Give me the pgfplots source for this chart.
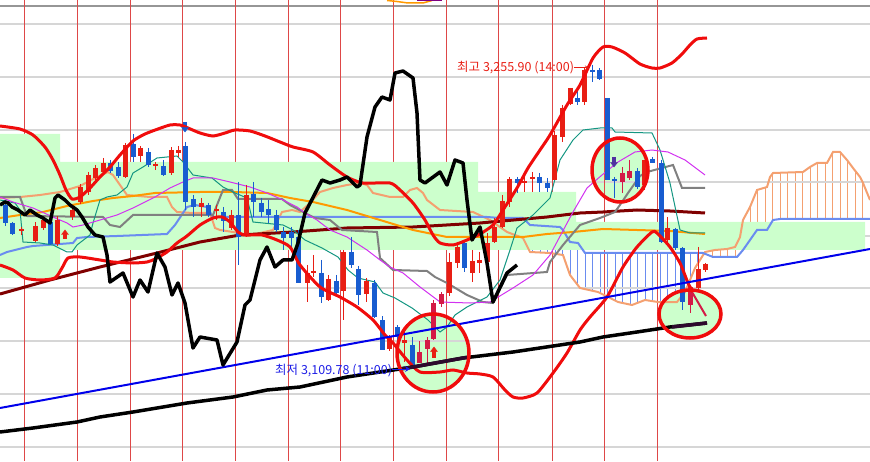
\documentclass[border=0pt]{standalone}
\usepackage{pgfplots}
\pgfplotsset{compat=1.18}
\usepackage{pgfplotstable}
\usepgfplotslibrary{fillbetween}
\usetikzlibrary{patterns.meta,arrows.meta}
\usepackage{fontspec}
\newfontfamily\krfont{Noto Sans CJK KR}

\definecolor{bandgreen}{RGB}{204,255,204}
\definecolor{gridgray}{RGB}{214,214,214}
\definecolor{topgray}{RGB}{150,150,150}
\definecolor{vred}{RGB}{222,72,72}
\definecolor{bbred}{RGB}{240,12,12}
\definecolor{cred}{RGB}{232,30,20}
\definecolor{cblue}{RGB}{24,92,208}
\definecolor{ccrim}{RGB}{212,26,70}
\definecolor{trendblue}{RGB}{0,0,235}
\definecolor{maroonc}{RGB}{128,0,0}
\definecolor{orng}{RGB}{255,153,0}
\definecolor{kgray}{RGB}{128,128,128}
\definecolor{tealc}{RGB}{20,150,130}
\definecolor{magen}{RGB}{210,50,240}
\definecolor{salmonc}{RGB}{244,160,112}
\definecolor{cflower}{RGB}{106,140,240}
\definecolor{darkpurple}{RGB}{45,10,45}
\definecolor{arrowpurple}{RGB}{80,50,160}
\definecolor{lblue}{RGB}{30,30,230}

% candles: x  high  body-top  body-bottom  low   (pixel rows, top = 0)
\pgfplotstableread{
x hi top bot lo
21 227 229 231 235
35 222 226 241 242
43 218 220 228 230
57 216 220 244 246
72 206 210 217 220
80 184 187 202 204
88 172 175 192 195
95 165 168 178 180
103 158 163 172 174
125 143 145 177 178
140 146 148 156 162
155 162 164 166 170
171 147 150 173 175
178 146 150 153 157
201 198 203 207 217
216 205 209 211 220
231 210 215 228 230
246 185 195 235 237
307 265 273 283 302
313 255 271 273 277
328 275 279 300 301
343 250 252 291 320
366 278 281 294 302
389 335 337 349 351
404 330 340 343 362
449 253 262 293 296
457 242 247 263 268
472 250 261 273 282
479 252 260 263 273
487 233 243 262 268
494 218 227 242 243
502 195 201 227 228
509 177 179 202 207
524 175 181 183 192
532 172 177 179 192
554 131 135 180 180
562 105 108 137 142
570 88 88 104 105
584 67 70 102 105
644 160 160 185 190
667 217 228 240 243
698 247 269 288 290
705 263 264 270 272
}\redc

\pgfplotstableread{
x hi top bot lo
5 200 205 223 226
12 222 223 234 235
50 215 222 244 245
110 160 163 171 173
118 162 167 176 178
133 134 144 157 162
148 148 152 165 167
163 160 166 175 176
185 142 146 202 210
193 195 199 207 217
208 203 205 215 217
223 207 212 221 232
238 182 215 237 265
253 182 194 202 217
261 198 203 212 217
268 200 209 215 223
276 210 215 230 232
283 227 232 238 250
291 227 232 238 250
298 230 237 283 283
321 260 273 297 303
336 275 281 293 295
351 237 252 265 268
358 266 269 295 305
374 280 283 317 318
382 316 320 350 350
397 325 327 337 353
412 337 345 367 367
464 241 243 268 272
517 177 179 183 193
539 173 177 183 192
547 178 183 188 192
577 88 98 102 105
592 65 70 72 82
599 68 70 79 80
607 98 98 180 180
614 177 179 181 198
637 168 171 187 189
652 157 159 163 163
661 160 163 242 243
675 228 229 248 250
682 247 248 302 310
}\bluec

\pgfplotstableread{
x hi top bot lo
419 341 352 363 363
427 337 340 349 363
433 300 303 339 340
441 292 294 304 307
622 167 173 182 193
629 160 171 178 180
690 285 287 305 313
}\crimc

\begin{document}
\begin{tikzpicture}
\begin{axis}[at={(0,0)}, anchor=south west,
  width=870pt, height=461pt, scale only axis,
  xmin=0, xmax=870, ymin=0, ymax=461, y dir=reverse,
  hide axis, clip=true]

% circle fills
\fill[bandgreen] (axis cs:433,353) ellipse [x radius=36pt, y radius=39pt];
\fill[bandgreen] (axis cs:620,170) ellipse [x radius=28pt, y radius=32pt];
\fill[bandgreen] (axis cs:690,314) ellipse [x radius=31pt, y radius=24pt];

% grid
\pgfplotsinvokeforeach{24,77,130,182,236,288,341,394,447}{
  \draw[gridgray, line width=1.2pt] (axis cs:0,#1) -- (axis cs:870,#1);}
\draw[topgray, line width=1.5pt] (axis cs:0,6) -- (axis cs:870,6);
\pgfplotsinvokeforeach{24,77,130,182,235,288,340,393,446,498,552,604,657}{
  \draw[vred, line width=1pt] (axis cs:#1,0) -- (axis cs:#1,461);}

% cloud band
\addplot[fill=bandgreen, draw=none] coordinates {(0,134) (60,134) (60,162) (478,162) (478,192) (576,192) (576,222) (865,222) (865,250) (60,250) (60,278) (0,278)} -- cycle;

% senkou spans
\addplot[salmonc, line width=2pt, name path=SA] coordinates {(0,198) (20,197) (40,195) (60,192) (80,186) (95,178) (108,172) (113,175) (120,185) (127,195) (150,197) (167,197) (172,207) (177,212) (193,213) (210,213) (215,228) (220,230) (233,232) (247,235) (260,233) (273,230) (282,212) (292,210) (300,212) (310,203) (320,192) (333,188) (347,185) (360,183) (367,185) (373,193) (390,197) (403,197) (410,190) (417,188) (423,193) (427,200) (440,210) (473,212) (490,220) (507,232) (523,238) (530,252) (550,253) (563,255) (570,275) (580,288) (598,292) (618,302) (632,305) (645,300) (658,302) (677,302) (685,292) (695,268) (705,252) (715,250) (727,249) (735,247) (740,237) (743,220) (750,207) (757,190) (767,187) (770,177) (773,173) (803,172) (810,167) (817,163) (827,163) (833,152) (840,152) (847,160) (853,168) (860,177) (863,183) (870,200)};
\addplot[cflower, line width=2pt, name path=SB] coordinates {(0,255) (7,252) (27,247) (33,246) (73,243) (77,238) (87,237) (117,236) (167,234) (175,225) (183,213) (187,207) (195,205) (207,207) (213,217) (487,217) (500,218) (523,218) (530,225) (560,227) (563,230) (570,242) (578,243) (585,253) (703,253) (713,257) (737,257) (743,250) (750,240) (757,230) (767,230) (773,220) (780,219) (870,219)};
\addplot[draw=none, pattern={Lines[angle=90,distance=7.5pt,line width=1pt]}, pattern color=salmonc] fill between[of=SA and SB, soft clip={domain=0:488}];
\addplot[draw=none, pattern={Lines[angle=90,distance=7.5pt,line width=1pt]}, pattern color=cflower] fill between[of=SA and SB, soft clip={domain=488:704}];
\addplot[draw=none, pattern={Lines[angle=90,distance=7.5pt,line width=1pt]}, pattern color=salmonc] fill between[of=SA and SB, soft clip={domain=704:870}];

% moving averages
\addplot[maroonc, line width=3pt] coordinates {(0,294) (50,280) (100,267) (157,253) (200,242) (240,235) (293,232) (347,228) (413,227) (480,223) (547,217) (580,213) (603,212) (637,210) (670,211) (705,213)};
\addplot[orng, line width=2pt] coordinates {(0,218) (20,215) (43,212) (67,206) (93,201) (113,198) (133,196) (155,193) (200,192) (233,192) (267,193) (290,198) (313,202) (347,210) (380,220) (413,230) (447,237) (480,237) (523,237) (547,234) (573,232) (603,229) (637,230) (670,231) (705,234)};
\addplot[kgray, line width=2pt] coordinates {(0,197) (20,197) (27,216) (103,217) (110,225) (120,227) (133,215) (213,215) (223,190) (232,190) (238,199) (282,199) (290,205) (305,213) (315,218) (330,220) (342,230) (377,232) (380,258) (393,270) (427,271) (435,277) (447,283) (467,295) (483,302) (493,303) (507,275) (547,272) (550,262) (563,245) (580,225) (600,218) (615,212) (622,202) (628,193) (640,176) (647,172) (673,165) (682,188) (705,188)};
\addplot[tealc, line width=1pt] coordinates {(0,200) (15,203) (20,210) (23,242) (40,243) (53,245) (67,252) (72,252) (77,245) (90,235) (93,223) (100,200) (107,197) (117,195) (127,187) (133,173) (143,167) (157,158) (177,156) (183,162) (193,175) (212,178) (223,187) (235,193) (247,198) (253,222) (263,223) (283,225) (293,230) (305,240) (322,248) (338,257) (348,270) (358,278) (375,282) (383,293) (395,298) (412,308) (428,320) (440,332) (447,327) (455,315) (467,307) (487,297) (500,280) (510,250) (517,228) (533,215) (550,198) (560,160) (573,140) (583,130) (600,128) (612,128) (615,132) (652,133) (660,150) (670,183) (680,230) (690,233) (705,233)};
\addplot[magen, line width=1pt] coordinates {(0,197) (13,202) (33,208) (53,217) (67,223) (73,227) (83,225) (100,220) (117,215) (133,208) (155,197) (170,188) (183,182) (193,178) (213,178) (230,182) (250,187) (267,193) (283,200) (297,207) (305,213) (317,220) (330,230) (347,237) (367,250) (380,260) (390,267) (403,273) (420,287) (440,302) (470,303) (490,302) (513,288) (533,275) (550,255) (573,212) (587,188) (602,175) (618,162) (635,152) (652,150) (668,152) (685,160) (705,175)};

% candles: wicks and bodies
\addplot[draw=none, mark=none, forget plot, error bars/.cd, y dir=plus, y explicit, error mark=none, error bar style={line width=1pt, draw=cred}] table[x=x, y=hi, y error expr=\thisrow{lo}-\thisrow{hi}] {\redc};
\addplot[draw=none, mark=none, forget plot, error bars/.cd, y dir=plus, y explicit, error mark=none, error bar style={line width=5pt, draw=cred}] table[x=x, y=top, y error expr=\thisrow{bot}-\thisrow{top}] {\redc};
\addplot[draw=none, mark=none, forget plot, error bars/.cd, y dir=plus, y explicit, error mark=none, error bar style={line width=1pt, draw=cblue}] table[x=x, y=hi, y error expr=\thisrow{lo}-\thisrow{hi}] {\bluec};
\addplot[draw=none, mark=none, forget plot, error bars/.cd, y dir=plus, y explicit, error mark=none, error bar style={line width=5pt, draw=cblue}] table[x=x, y=top, y error expr=\thisrow{bot}-\thisrow{top}] {\bluec};
\addplot[draw=none, mark=none, forget plot, error bars/.cd, y dir=plus, y explicit, error mark=none, error bar style={line width=1pt, draw=ccrim}] table[x=x, y=hi, y error expr=\thisrow{lo}-\thisrow{hi}] {\crimc};
\addplot[draw=none, mark=none, forget plot, error bars/.cd, y dir=plus, y explicit, error mark=none, error bar style={line width=5pt, draw=ccrim}] table[x=x, y=top, y error expr=\thisrow{bot}-\thisrow{top}] {\crimc};

% signal arrows
\addplot[only marks, mark=triangle*, mark size=4pt, color=cred, mark options={yscale=0.75}] coordinates {(65,233) (434,350)};
\addplot[draw=none, mark=none, error bars/.cd, y dir=plus, y explicit, error mark=none, error bar style={line width=3.5pt, draw=cred}] coordinates {(65,234) +- (0,5) (434,351) +- (0,7)};
\addplot[only marks, mark=triangle*, mark size=4pt, color=cblue, mark options={yscale=0.75, rotate=180}] coordinates {(185,129)};
\addplot[draw=none, mark=none, error bars/.cd, y dir=plus, y explicit, error mark=none, error bar style={line width=3.5pt, draw=cblue}] coordinates {(185,122) +- (0,6)};
\addplot[only marks, mark=triangle*, mark size=4pt, color=arrowpurple, mark options={yscale=0.75, rotate=180}] coordinates {(614,164)};
\addplot[draw=none, mark=none, error bars/.cd, y dir=plus, y explicit, error mark=none, error bar style={line width=3.5pt, draw=arrowpurple}] coordinates {(614,157) +- (0,6)};
\addplot[ccrim, line width=2pt] coordinates {(692,292) (706,316)};

% bollinger bands
\addplot[bbred, line width=3pt, smooth, tension=0.4] coordinates {(0,126) (20,129) (33,135) (45,147) (53,160) (60,175) (66,190) (72,199) (80,197) (90,188) (100,177) (110,167) (120,155) (133,141) (145,134) (158,129) (170,125) (180,125) (188,128) (200,133) (213,136) (225,133) (235,130) (250,131) (265,136) (280,142) (293,147) (313,152) (330,165) (347,177) (363,183) (390,183) (400,190) (413,203) (425,220) (433,235) (440,243) (453,245) (467,240) (480,234) (493,225) (503,210) (517,188) (528,168) (540,150) (550,135) (567,105) (580,85) (593,58) (603,47) (612,47) (625,53) (640,64) (652,68) (660,68) (672,63) (682,54) (690,45) (697,39) (707,38)};
\addplot[bbred, line width=3pt, smooth, tension=0.4] coordinates {(0,265) (13,270) (25,278) (40,280) (55,278) (62,268) (68,258) (80,257) (100,260) (113,262) (133,263) (147,262) (155,259) (167,252) (177,243) (187,236) (200,225) (213,218) (222,217) (230,222) (238,232) (245,235) (262,235) (277,240) (290,247) (300,265) (320,287) (340,297) (357,307) (373,320) (385,335) (393,343) (407,360) (420,372) (440,372) (453,370) (467,373) (480,374) (493,377) (505,390) (513,397) (523,398) (537,393) (553,373) (567,353) (580,330) (590,317) (607,297) (623,267) (637,247) (652,232) (657,233) (670,247) (680,263) (688,283) (693,292)};

% trend lines
\addplot[trendblue, line width=2pt] coordinates {(0,408) (870,249)};
\addplot[black, line width=3.5pt, line join=round] coordinates {(0,432) (33,428) (77,422) (100,417) (133,412) (163,407) (187,403) (233,397) (267,390) (300,387) (347,377) (413,367) (463,358) (513,352) (580,342) (603,337) (637,332) (670,327) (707,323)};
\addplot[darkpurple, line width=3.5pt] coordinates {(400,369) (413,367) (463,358) (469,357)};
\addplot[darkpurple, line width=3.5pt] coordinates {(672,327) (707,323)};
\addplot[black, line width=3.5pt, line join=round] coordinates {(0,205) (5,202) (8,203) (12,207) (18,210) (25,215) (30,210) (37,215) (43,218) (50,223) (55,198) (58,195) (65,200) (70,205) (77,210) (82,217) (88,227) (95,235) (103,237) (107,255) (110,282) (123,273) (133,297) (140,280) (148,292) (157,253) (165,267) (172,295) (178,283) (185,303) (193,348) (200,337) (217,340) (223,365) (237,342) (245,305) (250,300) (260,260) (267,247) (275,267) (283,260) (292,260) (298,243) (305,213) (322,180) (330,183) (340,180) (347,177) (357,187) (360,185) (367,137) (375,107) (382,97) (390,100) (395,73) (403,71) (413,78) (417,113) (420,180) (425,183) (440,172) (447,185) (455,160) (463,163) (467,200) (472,240) (480,227) (487,263) (493,302) (507,273) (517,265)};

% top partial item
\addplot[orng, line width=1.5pt] coordinates {(387,0.5) (397,1.5) (408,3) (423,3) (432,0.5)};
\addplot[violet, line width=2pt] coordinates {(417,0.5) (442,0.5)};

% circle outlines
\draw[bbred, line width=3.5pt] (axis cs:433,353) ellipse [x radius=36pt, y radius=39pt];
\draw[bbred, line width=3.5pt] (axis cs:620,170) ellipse [x radius=28pt, y radius=32pt];
\draw[bbred, line width=3.5pt] (axis cs:690,314) ellipse [x radius=31pt, y radius=24pt];

% labels
\node[anchor=base west, inner sep=0pt, text=cred, font=\krfont\fontsize{12.5}{13}\selectfont] at (axis cs:457,72) {최고 3,255.90 (14:00)};
\draw[cred, line width=1pt, -{Stealth[length=4pt,width=5pt]}] (axis cs:574,68) -- (axis cs:589,68);
\node[anchor=base west, inner sep=0pt, text=lblue, font=\krfont\fontsize{12.5}{13}\selectfont] at (axis cs:275,374) {최저 3,109.78 (11:00)};
\draw[lblue, line width=1pt, -{Stealth[length=5pt,width=6pt]}] (axis cs:392,369) -- (axis cs:410,369);
\end{axis}
\pgfresetboundingbox
\path[use as bounding box] (0,0) rectangle (870pt,461pt);
\end{tikzpicture}
\end{document}
